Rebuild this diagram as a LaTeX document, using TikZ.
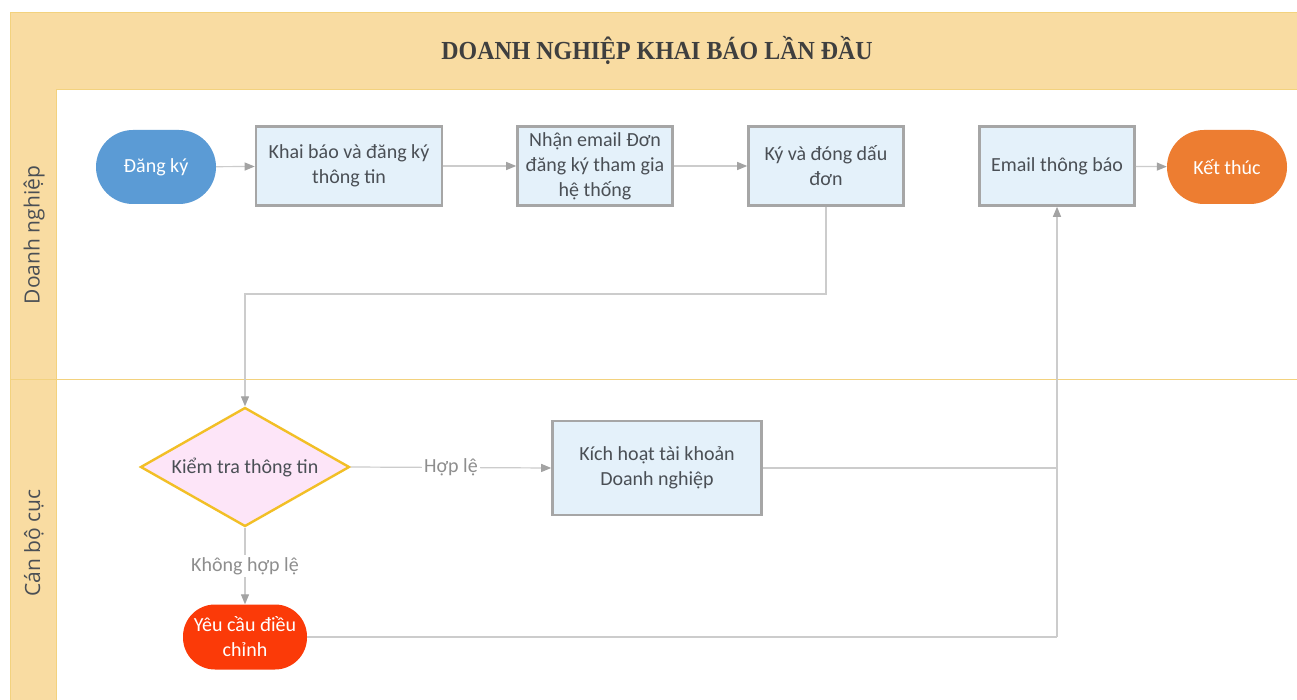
\documentclass[tikz,border=0pt]{standalone}
\usepackage{fontspec}
\setmainfont{Carlito}
\newfontfamily\titlefont{Liberation Serif}
\newfontfamily\lanefont{Open Sans}
\usetikzlibrary{arrows.meta,shapes.geometric}
\definecolor{band}{HTML}{F9DCA2}
\definecolor{bandline}{HTML}{F3D27E}
\definecolor{boxfill}{HTML}{E4F1FA}
\definecolor{boxline}{HTML}{A6A6A6}
\definecolor{txt}{HTML}{4A4F55}
\definecolor{conn}{HTML}{CCCCCC}
\definecolor{tipc}{HTML}{A3A3A3}
\definecolor{lblc}{HTML}{8E8E8E}
\definecolor{bluec}{HTML}{5B9BD5}
\definecolor{orangec}{HTML}{ED7D31}
\definecolor{redc}{HTML}{FB3A08}
\definecolor{pinkc}{HTML}{FDE5F8}
\definecolor{goldc}{HTML}{F2BF26}
\begin{document}
\begin{tikzpicture}[x=1pt,y=-1pt,
  every node/.style={font=\fontsize{20}{25}\selectfont, text=txt, align=center},
  procbox/.style={draw=boxline, fill=boxfill, line width=2.6pt, minimum width=155pt, minimum height=79pt, inner sep=2pt},
  term/.style={draw=none, text=white, minimum height=74pt, minimum width=120pt, rounded corners=37pt},
  decide/.style={diamond, draw=goldc, fill=pinkc, line width=2.4pt, aspect=1.756, inner sep=0pt, minimum width=209pt, minimum height=119pt},
  flow/.style={draw=conn, line width=1.2pt, -{Triangle[length=10pt,width=8pt,color=tipc]}},
  plain/.style={draw=conn, line width=1.2pt},
  lbl/.style={fill=white, text=lblc, inner sep=2pt},
  lane/.style={rotate=90, font=\lanefont\fontsize{21}{26}\selectfont, text=txt}
]
\useasboundingbox (0,0) rectangle (1297,700);
\fill[white] (0,0) rectangle (1297,700);
% bands
\fill[band] (10,13) rectangle (1297,90);
\fill[band] (10,90) rectangle (56,700);
\draw[bandline, line width=1pt] (10,13) -- (1297,13);
\draw[bandline, line width=1pt] (10,13) -- (10,700);
\draw[bandline, line width=1pt] (56,90) -- (1297,90);
\draw[bandline, line width=1pt] (56,90) -- (56,700);
\draw[bandline, line width=1pt] (10,379) -- (1297,379);
\node (title) at (657,50) {\scalebox{0.92}[1]{\titlefont\bfseries\fontsize{26}{30}\selectfont\color[HTML]{3F3F3F}DOANH NGHIỆP KHAI BÁO LẦN ĐẦU}};
\node[lane] (lane1) at (34,235) {Doanh nghiệp};
\node[lane] (lane2) at (34,543) {Cán bộ cục};
% nodes
\node[term, fill=bluec] (start) at (156,167) {Đăng ký};
\node[procbox, minimum width=186pt] (khai) at (349,166) {Khai báo và đăng ký\\thông tin};
\node[procbox] (nhan) at (595,166) {Nhận email Đơn\\đăng ký tham gia\\hệ thống};
\node[procbox] (ky) at (826,166) {Ký và đóng dấu\\đơn};
\node[procbox] (email) at (1057,166) {Email thông báo};
\node[term, fill=orangec] (end) at (1227,167) {Kết thúc};
\node[decide] (check) at (245,467) {Kiểm tra thông tin};
\node[procbox, minimum width=209pt, minimum height=94pt] (kich) at (657,468) {Kích hoạt tài khoản\\Doanh nghiệp};
\node[term, fill=redc, minimum width=124pt, minimum height=65pt, rounded corners=32pt] (yeu) at (245,637) {Yêu cầu điều\\chỉnh};
\coordinate (j1) at (1057,468);
\coordinate (j2) at (1057,637);
% connectors
\draw[flow] (start) -- (khai);
\draw[flow] (khai) -- (nhan);
\draw[flow] (nhan) -- (ky);
\draw[flow] (email) -- (end);
\draw[flow] (ky.south) |- (245,294) -- (check.north);
\draw[flow] (check.east) -- node[lbl, pos=0.5] {Hợp lệ} (kich.west);
\draw[flow] (check.south) -- node[lbl, pos=0.5] {Không hợp lệ} (yeu.north);
\draw[plain] (kich.east) -- (j1);
\draw[plain] (yeu.east) -- (j2);
\draw[flow] (j2) -- (email.south);
\end{tikzpicture}
\end{document}
